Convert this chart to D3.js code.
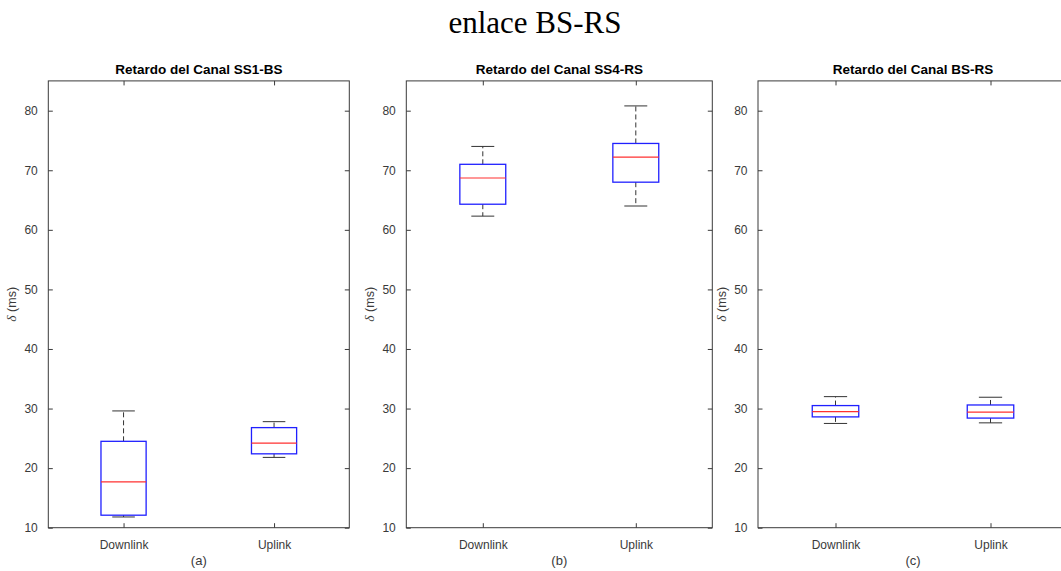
<!DOCTYPE html>
<html>
<head>
<meta charset="utf-8">
<script src="https://cdn.jsdelivr.net/npm/d3@7"></script>
<style>
  html, body { margin: 0; padding: 0; background: #fff; }
  svg { display: block; }
</style>
</head>
<body>
<svg id="chart" width="1061" height="571"></svg>
<script>
// Box-plot statistics: [lower whisker, Q1, median, Q3, upper whisker], delay in ms
const categories = ["Downlink", "Uplink"];
const panelTitles = ["Retardo del Canal SS1-BS", "Retardo del Canal SS4-RS", "Retardo del Canal BS-RS"];
const panelLetters = ["(a)", "(b)", "(c)"];
const yTicks = [10, 20, 30, 40, 50, 60, 70, 80];
const yDomain = [10, 85];

const ss1bsDownlink = [11.8, 12.1, 17.7, 24.5, 29.6];
const ss1bsUplink   = [21.8, 22.4, 24.2, 26.8, 27.8];
const ss4rsDownlink = [62.3, 64.3, 68.7, 71.0, 74.0];
const ss4rsUplink   = [64.0, 68.0, 72.2, 74.5, 80.8];
const bsrsDownlink  = [27.5, 28.6, 29.5, 30.5, 32.0];
const bsrsUplink    = [27.6, 28.4, 29.4, 30.6, 31.9];

const panelSeries = [
  [ss1bsDownlink, ss1bsUplink],
  [ss4rsDownlink, ss4rsUplink],
  [bsrsDownlink, bsrsUplink]
];

const svg = d3.select("#chart");
const font = "'Liberation Sans', Arial, Helvetica, sans-serif";
const axisColor = "#3a3a3a";

// Figure title
svg.append("text")
  .attr("x", 535).attr("y", 33)
  .attr("text-anchor", "middle")
  .attr("font-family", "'Liberation Serif', 'Times New Roman', serif")
  .attr("font-size", 31)
  .attr("fill", "#000")
  .text("enlace BS-RS");

// Horizontal extents of the three axes
const panelRanges = [[48.3, 349.3], [406.3, 712.3], [758, 1068]];
const plotTop = 80.9, plotBottom = 527.7;
const tickLen = 4.5;
const boxHalf = 0.15, capHalf = 0.075;

const y = d3.scaleLinear().domain(yDomain).range([plotBottom, plotTop]);

panelSeries.forEach((series, p) => {
  const [x0, x1] = panelRanges[p];
  const x = d3.scaleLinear().domain([0.5, categories.length + 0.5]).range([x0, x1]);
  const g = svg.append("g");

  // Left axis with labels
  const yAxis = d3.axisLeft(y).tickValues(yTicks).tickSize(-tickLen).tickPadding(6 + tickLen);
  const ya = g.append("g").attr("transform", `translate(${x0},0)`).call(yAxis);
  // Right axis, ticks only
  const ya2 = g.append("g").attr("transform", `translate(${x1},0)`)
    .call(d3.axisRight(y).tickValues(yTicks).tickSize(-tickLen).tickFormat(""));
  // Bottom axis with category labels
  const xAxis = d3.axisBottom(x).tickValues(d3.range(1, categories.length + 1))
    .tickFormat(i => categories[i - 1]).tickSize(-tickLen).tickPadding(8 + tickLen);
  const xa = g.append("g").attr("transform", `translate(0,${plotBottom})`).call(xAxis);
  // Top axis, ticks only
  const xa2 = g.append("g").attr("transform", `translate(0,${plotTop})`)
    .call(d3.axisTop(x).tickValues(d3.range(1, categories.length + 1)).tickSize(-tickLen).tickFormat(""));

  [ya, ya2, xa, xa2].forEach(a => {
    a.select(".domain").remove();
    a.selectAll("line").attr("stroke", axisColor);
    a.selectAll("text").attr("font-family", font).attr("font-size", 12).attr("fill", axisColor);
  });

  // Axes frame
  g.append("rect")
    .attr("x", x0).attr("y", plotTop)
    .attr("width", x1 - x0).attr("height", plotBottom - plotTop)
    .attr("fill", "none").attr("stroke", axisColor).attr("stroke-width", 1);

  // Panel title
  g.append("text")
    .attr("x", (x0 + x1) / 2).attr("y", 73.5)
    .attr("text-anchor", "middle")
    .attr("font-family", font).attr("font-weight", "bold").attr("font-size", 13.5)
    .attr("fill", "#000")
    .text(panelTitles[p]);

  // Y-axis label
  const ylab = g.append("text")
    .attr("transform", `translate(${x0 - 32},${(plotTop + plotBottom) / 2}) rotate(-90)`)
    .attr("text-anchor", "middle")
    .attr("font-family", font).attr("font-size", 12.5).attr("fill", axisColor);
  ylab.append("tspan").attr("font-style", "italic").attr("font-family", "'Liberation Serif', serif").attr("font-size", 13.5).text("δ");
  ylab.append("tspan").text(" (ms)");

  // Sub-figure letter
  g.append("text")
    .attr("x", (x0 + x1) / 2).attr("y", 565)
    .attr("text-anchor", "middle")
    .attr("font-family", font).attr("font-size", 13).attr("fill", axisColor)
    .text(panelLetters[p]);

  // Boxes
  series.forEach((s, i) => {
    const c = i + 1;
    const [lo, q1, med, q3, hi] = s;
    const bg = g.append("g");
    // whiskers (dashed)
    bg.append("line")
      .attr("x1", x(c)).attr("x2", x(c)).attr("y1", y(q3)).attr("y2", y(hi))
      .attr("stroke", "#333").attr("stroke-dasharray", "5,3");
    bg.append("line")
      .attr("x1", x(c)).attr("x2", x(c)).attr("y1", y(q1)).attr("y2", y(lo))
      .attr("stroke", "#333").attr("stroke-dasharray", "5,3");
    // caps
    [lo, hi].forEach(v => {
      bg.append("line")
        .attr("x1", x(c - capHalf)).attr("x2", x(c + capHalf))
        .attr("y1", y(v)).attr("y2", y(v))
        .attr("stroke", "#333");
    });
    // box
    bg.append("rect")
      .attr("x", x(c - boxHalf)).attr("y", y(q3))
      .attr("width", x(c + boxHalf) - x(c - boxHalf)).attr("height", y(q1) - y(q3))
      .attr("fill", "none").attr("stroke", "#2020ff").attr("stroke-width", 1.3);
    // median
    bg.append("line")
      .attr("x1", x(c - boxHalf)).attr("x2", x(c + boxHalf))
      .attr("y1", y(med)).attr("y2", y(med))
      .attr("stroke", "#ff3030").attr("stroke-width", 1.2);
  });
});
</script>
</body>
</html>
